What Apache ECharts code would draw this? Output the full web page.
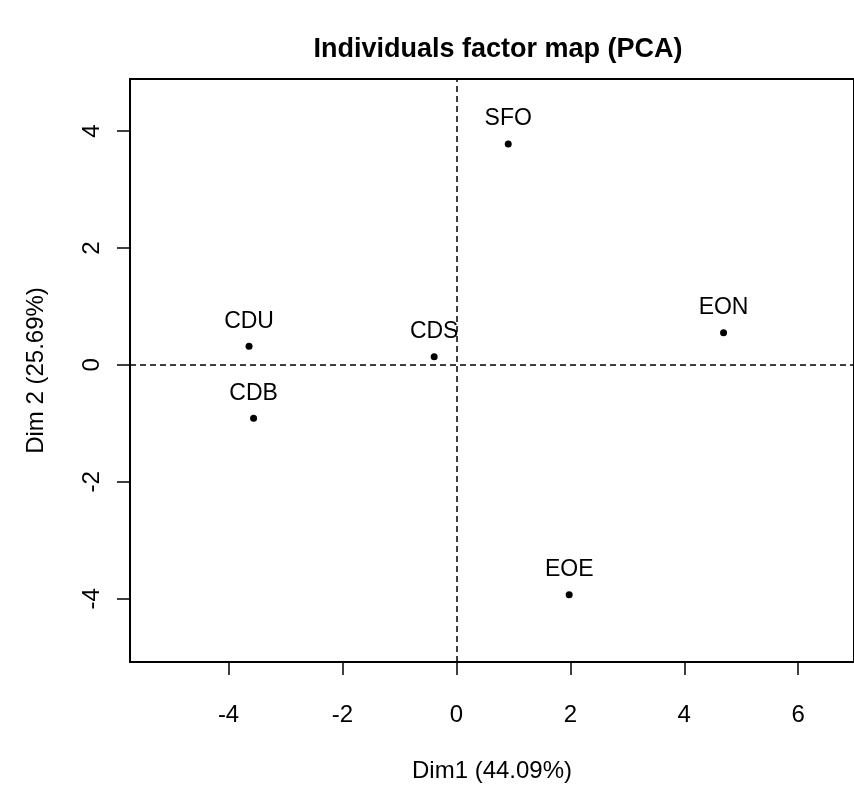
<!DOCTYPE html>
<html>
<head>
<meta charset="utf-8">
<script src="https://cdn.jsdelivr.net/npm/echarts@6/dist/echarts.min.js"></script>
<style>
  html, body { margin: 0; padding: 0; background: #fff; }
  #main { width: 854px; height: 788px; }
</style>
</head>
<body>
<div id="main"></div>
<script>
// individuals (PCA coordinates)
var names = ["SFO", "EON", "CDU", "CDS", "CDB", "EOE"];
var dim1 = [0.91, 4.69, -3.64, -0.39, -3.56, 1.98];
var dim2 = [3.78, 0.55, 0.32, 0.14, -0.91, -3.93];
var xTicks = [-4, -2, 0, 2, 4, 6];
var yTicks = [-4, -2, 0, 2, 4];

var font = "Liberation Sans";
var points = names.map(function (n, i) { return { name: n, value: [dim1[i], dim2[i]] }; });

var chart = echarts.init(document.getElementById("main"));
chart.setOption({
  animation: false,
  backgroundColor: "#fff",
  title: {
    text: "Individuals factor map (PCA)",
    left: 493,
    top: 31,
    textAlign: "center",
    textStyle: { fontFamily: font, fontWeight: "bold", fontSize: 27, color: "#000" }
  },
  grid: {
    left: 130,
    right: -3,
    top: 79,
    bottom: 123,
    show: true,
    borderColor: "#000",
    borderWidth: 2,
    backgroundColor: "transparent"
  },
  xAxis: {
    type: "value",
    min: -5.73,
    max: 6.98,
    name: "Dim1 (44.09%)",
    nameLocation: "middle",
    nameGap: 97,
    nameTextStyle: { fontFamily: font, fontSize: 24, color: "#000" },
    splitLine: { show: false },
    axisLine: { show: false, onZero: false },
    axisTick: { show: true, length: 13, lineStyle: { color: "#000", width: 1.5 }, customValues: xTicks },
    axisLabel: { margin: 41, fontFamily: font, fontSize: 24, color: "#000", customValues: xTicks }
  },
  yAxis: {
    type: "value",
    min: -5.08,
    max: 4.89,
    name: "Dim 2 (25.69%)",
    nameLocation: "middle",
    nameGap: 82,
    nameRotate: 90,
    nameTextStyle: { fontFamily: font, fontSize: 24, color: "#000" },
    splitLine: { show: false },
    axisLine: { show: false, onZero: false },
    axisTick: { show: true, length: 13, lineStyle: { color: "#000", width: 1.5 }, customValues: yTicks },
    axisLabel: { margin: 26, rotate: 90, fontFamily: font, fontSize: 24, color: "#000", customValues: yTicks }
  },
  series: [{
    type: "scatter",
    data: points,
    symbol: "circle",
    symbolSize: 7,
    itemStyle: { color: "#000", opacity: 1 },
    label: {
      show: true,
      formatter: "{b}",
      position: "top",
      distance: 10,
      fontFamily: font,
      fontSize: 23,
      color: "#000"
    },
    markLine: {
      silent: true,
      symbol: "none",
      label: { show: false },
      lineStyle: { color: "#000", width: 1.5, type: [6, 4] },
      data: [{ xAxis: 0 }, { yAxis: 0 }]
    }
  }]
});
</script>
</body>
</html>
